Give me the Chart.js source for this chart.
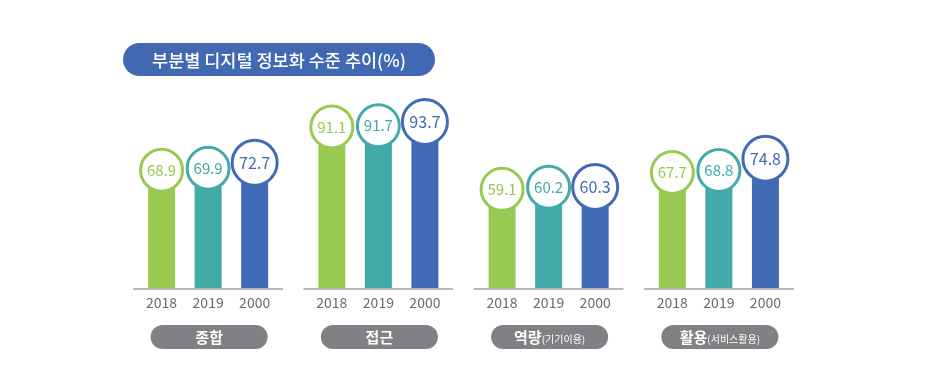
<!DOCTYPE html>
<html>
<head>
<meta charset="utf-8">
<script src="https://cdn.jsdelivr.net/npm/chart.js@4"></script>
<style>
html,body{margin:0;padding:0;background:#fff;}
#wrap{width:928px;height:385px;position:relative;}
</style>
</head>
<body>
<div id="wrap"><canvas id="c" width="928" height="385"></canvas></div>
<script>
const chartTitle = '부분별 디지털 정보화 수준 추이(%)';
const categories = ['종합', '접근', '역량', '활용'];
const categorySubLabels = ['', '', '(기기이용)', '(서비스활용)'];
const years = ['2018', '2019', '2000'];
const values2018 = [68.9, 91.1, 59.1, 67.7];
const values2019 = [69.9, 91.7, 60.2, 68.8];
const values2000 = [72.7, 93.7, 60.3, 74.8];

const seriesColors = ['#98c950', '#42aaa8', '#416bb4'];
const FONT = "'Noto Sans CJK KR', 'Noto Sans', sans-serif";

function roundPill(ctx, x, y, w, h) {
  const r = h / 2;
  ctx.beginPath();
  ctx.moveTo(x + r, y);
  ctx.lineTo(x + w - r, y);
  ctx.arc(x + w - r, y + r, r, -Math.PI / 2, Math.PI / 2);
  ctx.lineTo(x + r, y + h);
  ctx.arc(x + r, y + r, r, Math.PI / 2, Math.PI * 1.5);
  ctx.closePath();
}

const decorPlugin = {
  id: 'decor',
  afterDatasetsDraw(chart) {
    const ctx = chart.ctx;
    const xs = chart.scales.x;
    const bottom = chart.chartArea.bottom;
    ctx.save();
    // group baselines
    const half = xs.width / categories.length * 0.44;
    ctx.strokeStyle = '#b8b8b8';
    ctx.lineWidth = 2;
    categories.forEach((c, i) => {
      const cx = xs.getPixelForValue(i);
      ctx.beginPath();
      ctx.moveTo(cx - half, bottom);
      ctx.lineTo(cx + half, bottom);
      ctx.stroke();
    });
    // circles + year labels
    chart.data.datasets.forEach((ds, di) => {
      const meta = chart.getDatasetMeta(di);
      meta.data.forEach((bar, i) => {
        const r = di === 2 ? 22.5 : 21;
        ctx.beginPath();
        ctx.arc(bar.x, bar.y, r, 0, Math.PI * 2);
        ctx.fillStyle = '#ffffff';
        ctx.fill();
        ctx.lineWidth = 3;
        ctx.strokeStyle = seriesColors[di];
        ctx.stroke();
        ctx.fillStyle = seriesColors[di];
        ctx.font = (di === 2 ? '16px ' : '15px ') + FONT;
        ctx.textAlign = 'center';
        ctx.textBaseline = 'middle';
        ctx.fillText(ds.data[i].toFixed(1), bar.x, bar.y);
        ctx.fillStyle = '#6b6b6b';
        ctx.font = '14px ' + FONT;
        ctx.fillText(ds.label, bar.x, bottom + 14);
      });
    });
    // category pills
    categories.forEach((c, i) => {
      const cx = xs.getPixelForValue(i) + 1;
      const w = 117, h = 24, y = bottom + 36;
      roundPill(ctx, cx - w / 2, y, w, h);
      ctx.fillStyle = '#808085';
      ctx.fill();
      ctx.fillStyle = '#ffffff';
      ctx.textBaseline = 'middle';
      const sub = categorySubLabels[i];
      ctx.font = 'bold 15px ' + FONT;
      const mw = ctx.measureText(c).width;
      ctx.font = '10px ' + FONT;
      const sw = sub ? ctx.measureText(sub).width : 0;
      const total = mw + sw;
      let tx = cx - total / 2;
      ctx.textAlign = 'left';
      ctx.font = 'bold 15px ' + FONT;
      ctx.fillText(c, tx, y + h / 2);
      if (sub) {
        ctx.font = '10px ' + FONT;
        ctx.fillText(sub, tx + mw, y + h / 2 + 2);
      }
    });
    // title pill
    roundPill(ctx, 123, 43, 312, 33);
    ctx.fillStyle = '#4169b3';
    ctx.fill();
    ctx.fillStyle = '#ffffff';
    ctx.font = '500 17.5px ' + FONT;
    ctx.textAlign = 'center';
    ctx.textBaseline = 'middle';
    ctx.fillText(chartTitle, 279, 60);
    ctx.restore();
  }
};

new Chart(document.getElementById('c'), {
  type: 'bar',
  data: {
    labels: categories,
    datasets: [
      { label: years[0], data: values2018, backgroundColor: seriesColors[0] },
      { label: years[1], data: values2019, backgroundColor: seriesColors[1] },
      { label: years[2], data: values2000, backgroundColor: seriesColors[2] }
    ]
  },
  options: {
    responsive: false,
    animation: false,
    devicePixelRatio: 1,
    layout: { padding: { left: 123, right: 124, top: 94, bottom: 96 } },
    categoryPercentage: 0.82,
    barPercentage: 0.58,
    plugins: { legend: { display: false }, tooltip: { enabled: false } },
    scales: {
      x: { display: false, grid: { display: false } },
      y: { display: false, min: 8, max: 108, grid: { display: false } }
    }
  },
  plugins: [decorPlugin]
});
</script>
</body>
</html>
